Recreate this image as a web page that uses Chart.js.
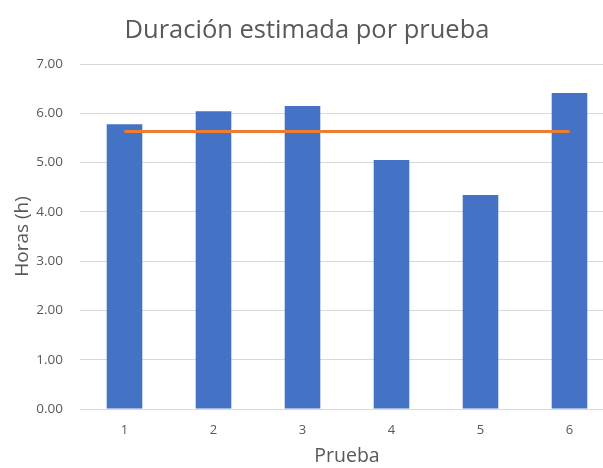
<!DOCTYPE html>
<html>
<head>
<meta charset="utf-8">
<script src="https://cdn.jsdelivr.net/npm/chart.js@4/dist/chart.umd.min.js"></script>
<style>
  html, body { margin: 0; padding: 0; overflow: hidden; background: #fff; }
  #wrap { width: 614px; height: 468px; position: relative; }
</style>
</head>
<body>
<div id="wrap"><canvas id="c" width="614" height="468"></canvas></div>
<script>
const categories = ["1", "2", "3", "4", "5", "6"];
const durations = [5.78, 6.04, 6.15, 5.05, 4.34, 6.41];
const average = [5.63, 5.63, 5.63, 5.63, 5.63, 5.63];
const yTicks = [0, 1, 2, 3, 4, 5, 6, 7];

const textColor = '#595959';
const font = 'Open Sans';

new Chart(document.getElementById('c'), {
  data: {
    labels: categories,
    datasets: [
      {
        type: 'line',
        label: 'Promedio',
        data: average,
        borderColor: '#ED7D31',
        borderWidth: 3,
        pointRadius: 0,
        fill: false,
        order: 0
      },
      {
        type: 'bar',
        label: 'Duración',
        data: durations,
        backgroundColor: '#4472C4',
        barPercentage: 0.4,
        categoryPercentage: 1.0,
        order: 1
      }
    ]
  },
  options: {
    responsive: false,
    animation: false,
    layout: { padding: 0 },
    plugins: {
      legend: { display: false },
      tooltip: { enabled: false },
      title: {
        display: true,
        text: 'Duración estimada por prueba',
        color: textColor,
        font: { family: font, size: 25.5, weight: 'normal' },
        padding: { top: 15, bottom: 18.4 }
      }
    },
    scales: {
      x: {
        grid: { display: false, drawTicks: false },
        border: { display: false },
        ticks: { color: textColor, font: { family: font, size: 13 }, padding: 13 },
        title: {
          display: true,
          text: 'Prueba',
          color: textColor,
          font: { family: font, size: 19.5 },
          padding: { top: 2, bottom: 0 }
        },
        afterFit: (s) => { s.height = 59; }
      },
      y: {
        min: 0,
        max: 7,
        afterBuildTicks: (s) => { s.ticks = yTicks.map(v => ({ value: v })); },
        grid: { color: '#d9d9d9', drawTicks: false, lineWidth: 1 },
        border: { display: false },
        ticks: {
          color: textColor,
          font: { family: font, size: 13.5 },
          padding: 17,
          callback: (v) => Number(v).toFixed(2)
        },
        title: {
          display: true,
          text: 'Horas (h)',
          color: textColor,
          font: { family: font, size: 19 },
          padding: { top: 11, bottom: 4 }
        },
        afterFit: (s) => { s.width = 80; }
      }
    }
  }
});
</script>
</body>
</html>
